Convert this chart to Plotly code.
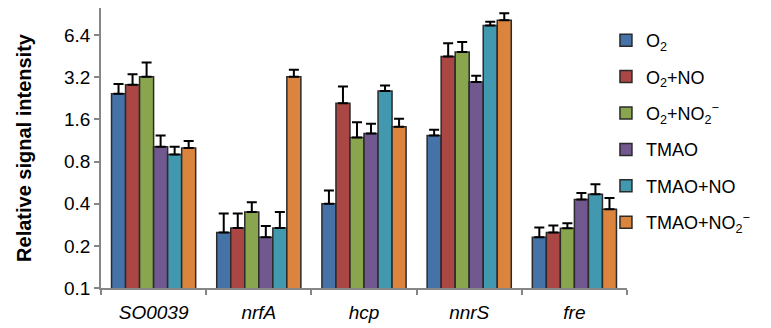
import plotly.graph_objects as go

categories = ["SO0039", "nrfA", "hcp", "nnrS", "fre"]
series_names = ["O<sub>2</sub>", "O<sub>2</sub>+NO", "O<sub>2</sub>+NO<sub>2</sub><sup>−</sup>",
                "TMAO", "TMAO+NO", "TMAO+NO<sub>2</sub><sup>−</sup>"]

o2 = [2.44, 0.249, 0.399, 1.23, 0.230]
o2_no = [2.83, 0.268, 2.09, 4.51, 0.249]
o2_no2 = [3.23, 0.349, 1.19, 4.85, 0.267]
tmao = [1.02, 0.230, 1.27, 2.96, 0.429]
tmao_no = [0.90, 0.268, 2.55, 7.49, 0.468]
tmao_no2 = [1.00, 3.23, 1.42, 8.17, 0.365]

o2_err = [0.42, 0.091, 0.098, 0.12, 0.040]
o2_no_err = [0.54, 0.072, 0.66, 1.08, 0.030]
o2_no2_err = [0.85, 0.061, 0.34, 0.87, 0.023]
tmao_err = [0.21, 0.047, 0.22, 0.32, 0.049]
tmao_no_err = [0.12, 0.081, 0.24, 0.47, 0.084]
tmao_no2_err = [0.12, 0.39, 0.20, 1.00, 0.075]

y_tick_vals = [0.1, 0.2, 0.4, 0.8, 1.6, 3.2, 6.4]
y_tick_text = ["0.1", "0.2", "0.4", "0.8", "1.6", "3.2", "6.4"]

colors = ["#4572A7", "#AA4643", "#89A54E", "#71588F", "#4198AF", "#DB843D"]

values = [o2, o2_no, o2_no2, tmao, tmao_no, tmao_no2]
errors = [o2_err, o2_no_err, o2_no2_err, tmao_err, tmao_no_err, tmao_no2_err]

fig = go.Figure()
for i, (name, vals, errs) in enumerate(zip(series_names, values, errors)):
    fig.add_trace(go.Bar(
        x=categories, y=vals, name=name,
        legendgroup=str(i),
        marker=dict(color=colors[i], line=dict(color="#2b2b2b", width=1.5)),
        error_y=dict(type="data", array=errs, symmetric=False, arrayminus=[0]*len(errs),
                     color="black", thickness=2, width=5),
    ))

fig.update_layout(
    width=771, height=328,
    margin=dict(l=101, r=144, t=8, b=40, autoexpand=False),
    paper_bgcolor="white", plot_bgcolor="white",
    barmode="group", bargap=0.2, bargroupgap=0,
    font=dict(family="Arial, Liberation Sans, sans-serif", color="black"),
    legend=dict(x=0.960, y=0.95, xanchor="left", yanchor="top",
                font=dict(size=18), traceorder="grouped", tracegroupgap=10,
                itemwidth=30, bgcolor="rgba(0,0,0,0)"),
    showlegend=True,
)
fig.update_xaxes(
    automargin=False,
    showline=True, linecolor="#868686", linewidth=1.5,
    ticks="outside", tickson="boundaries", ticklen=5, tickcolor="#868686", tickwidth=1.5,
    tickfont=dict(size=19, style="italic"), ticklabelstandoff=6,
    showgrid=False,
)
fig.update_yaxes(
    automargin=False,
    type="log", range=[-1, 1],
    showline=True, linecolor="#868686", linewidth=1.5,
    ticks="outside", ticklen=5, tickcolor="#868686", tickwidth=1.5,
    tickvals=y_tick_vals, ticktext=y_tick_text,
    tickfont=dict(size=19), ticklabelstandoff=0,
    showgrid=False, zeroline=False,
    title=dict(text="<b>Relative signal intensity</b>", font=dict(size=20), standoff=27),
)

fig.write_html("out.html", config={"displayModeBar": False},
               post_script="document.body.style.margin='0';document.body.style.overflow='hidden';")
